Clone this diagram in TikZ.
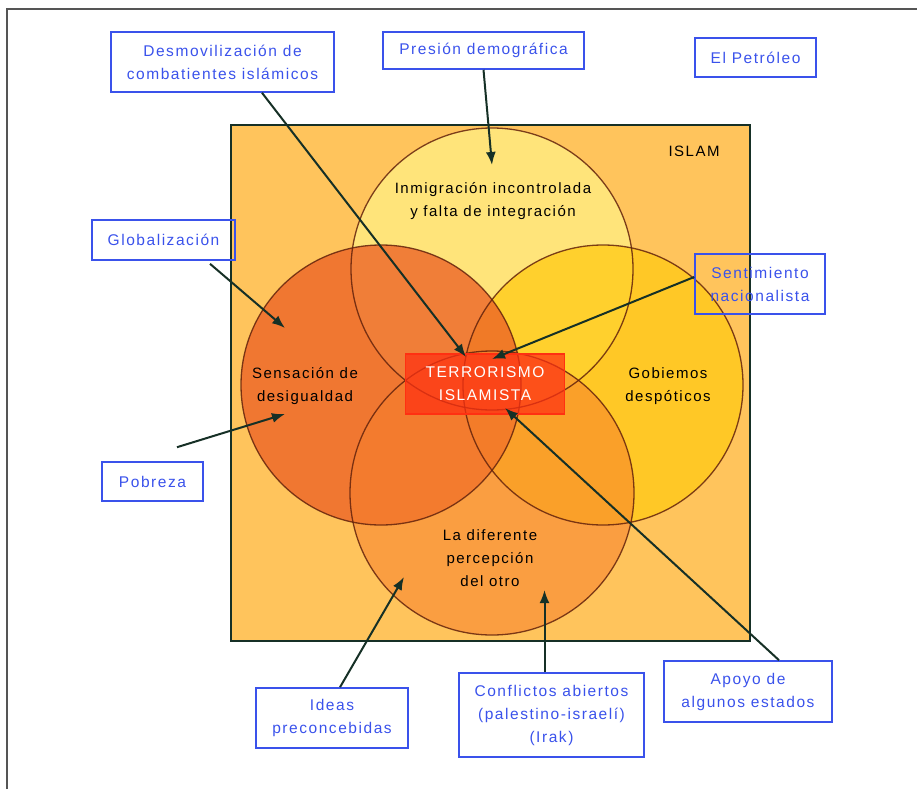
\documentclass[tikz,border=0pt]{standalone}
\usepackage{fontspec}
\setmainfont[LetterSpace=10]{Liberation Sans}
\usetikzlibrary{arrows.meta}

\definecolor{islamfill}{RGB}{255,196,92}
\definecolor{framegray}{RGB}{85,85,85}
\definecolor{boxblue}{RGB}{58,82,235}
\definecolor{arrowgreen}{RGB}{22,48,38}
\definecolor{ringbrown}{RGB}{100,35,12}
\definecolor{immigfill}{RGB}{255,242,135}
\definecolor{govfill}{RGB}{255,202,20}
\definecolor{inequfill}{RGB}{236,98,38}
\definecolor{otherfill}{RGB}{246,128,44}
\definecolor{terrorred}{RGB}{255,48,18}

\tikzset{
    factor/.style={draw=boxblue, line width=1.6pt, text=boxblue, align=center,
        inner sep=0pt, font=\fontsize{15.5}{23}\selectfont},
    ring/.style={draw=ringbrown, line width=1.3pt, draw opacity=0.85},
    circletext/.style={align=center, inner sep=0pt, text=black,
        font=\fontsize{15}{23}\selectfont},
    cause/.style={draw=arrowgreen, line width=2pt,
        -{Latex[length=13pt,width=10pt]}},
}

\begin{document}
\begin{tikzpicture}[x=1pt,y=-1pt]

\useasboundingbox (0,0) rectangle (917,789);

% Frame
\draw [framegray, line width=2pt] (7,789) -- (7,9) -- (917,9);

% Islam square
\draw [fill=islamfill, draw=arrowgreen, line width=2pt] (231,125) rectangle (750,641);

% Circle centres
\coordinate (CImmig) at (492,269);
\coordinate (CInequ) at (381,385);
\coordinate (CGov)   at (603,385);
\coordinate (COther) at (492,493);

% Circle fills
\fill [immigfill, fill opacity=0.7]  (CImmig) circle (141);
\fill [govfill,   fill opacity=0.75] (CGov)   circle (140);
\fill [inequfill, fill opacity=0.78] (CInequ) circle (140);
\fill [otherfill, fill opacity=0.55] (COther) circle (142);

% Circle outlines
\draw [ring] (CImmig) circle (141);
\draw [ring] (CGov)   circle (140);
\draw [ring] (CInequ) circle (140);
\draw [ring] (COther) circle (142);

% Texts inside the square
\node [circletext] (islam) at (694,151) {ISLAM};
\node [circletext] (immig) at (493,201) {Inmigración incontrolada\\y falta de integración};
\node [circletext] (inequ) at (305,386) {Sensación de\\desigualdad};
\node [circletext] (gov)   at (668,386) {Gobiemos\\despóticos};
\node [circletext] (other) at (490,558) {La diferente\\percepción\\del otro};

\node [fill=terrorred, fill opacity=0.72, draw=terrorred, line width=1.5pt,
    text opacity=1, text=white, align=center, inner sep=0pt,
    minimum width=159pt, minimum height=60pt,
    font=\fontsize{15.5}{23}\selectfont] (terror) at (485,384) {TERRORISMO\\ISLAMISTA};

% Factor boxes
\node [factor, minimum width=223pt, minimum height=60pt] (desmov)   at (222.5,62)  {Desmovilización de\\combatientes islámicos};
\node [factor, minimum width=201pt, minimum height=37pt] (presion)  at (483.5,50.5) {Presión demográfica};
\node [factor, minimum width=121pt, minimum height=39pt] (petroleo) at (755.5,57.5) {El Petróleo};
\node [factor, minimum width=143pt, minimum height=40pt] (global)   at (163.5,240) {Globalización};
\node [factor, minimum width=130pt, minimum height=60pt] (sentim)   at (760,284)   {Sentimiento\\nacionalista};
\node [factor, minimum width=101pt, minimum height=39pt] (pobreza)  at (152.5,481.5) {Pobreza};
\node [factor, minimum width=152pt, minimum height=60pt] (ideas)    at (332,718)   {Ideas\\preconcebidas};
\node [factor, minimum width=185pt, minimum height=84pt] (conflict) at (551.5,715) {Conflictos abiertos\\(palestino-israelí)\\(Irak)};
\node [factor, minimum width=168pt, minimum height=61pt] (apoyo)    at (748,691.5) {Apoyo de\\algunos estados};

% Arrow tips
\coordinate (TDesmov)   at (466,357);
\coordinate (TPresion)  at (492,165);
\coordinate (TGlobal)   at (285,328);
\coordinate (TSentim)   at (492,359);
\coordinate (TPobreza)  at (285,414);
\coordinate (TIdeas)    at (404,577);
\coordinate (TConflict) at (544.5,590);
\coordinate (TApoyo)    at (505,408);

% Arrows
\draw [cause] ([xshift=39.5pt]desmov.south) -- (TDesmov);
\draw [cause] (presion.south) -- (TPresion);
\draw [cause] ([xshift=46.5pt,yshift=-3pt]global.south) -- (TGlobal);
\draw [cause] ([yshift=7pt]sentim.west) -- (TSentim);
\draw [cause] ([xshift=24.5pt,yshift=14pt]pobreza.north) -- (TPobreza);
\draw [cause] ([xshift=8pt]ideas.north) -- (TIdeas);
\draw [cause] ([xshift=-7pt]conflict.north) -- (TConflict);
\draw [cause] ([xshift=31pt]apoyo.north) -- (TApoyo);

\end{tikzpicture}
\end{document}
